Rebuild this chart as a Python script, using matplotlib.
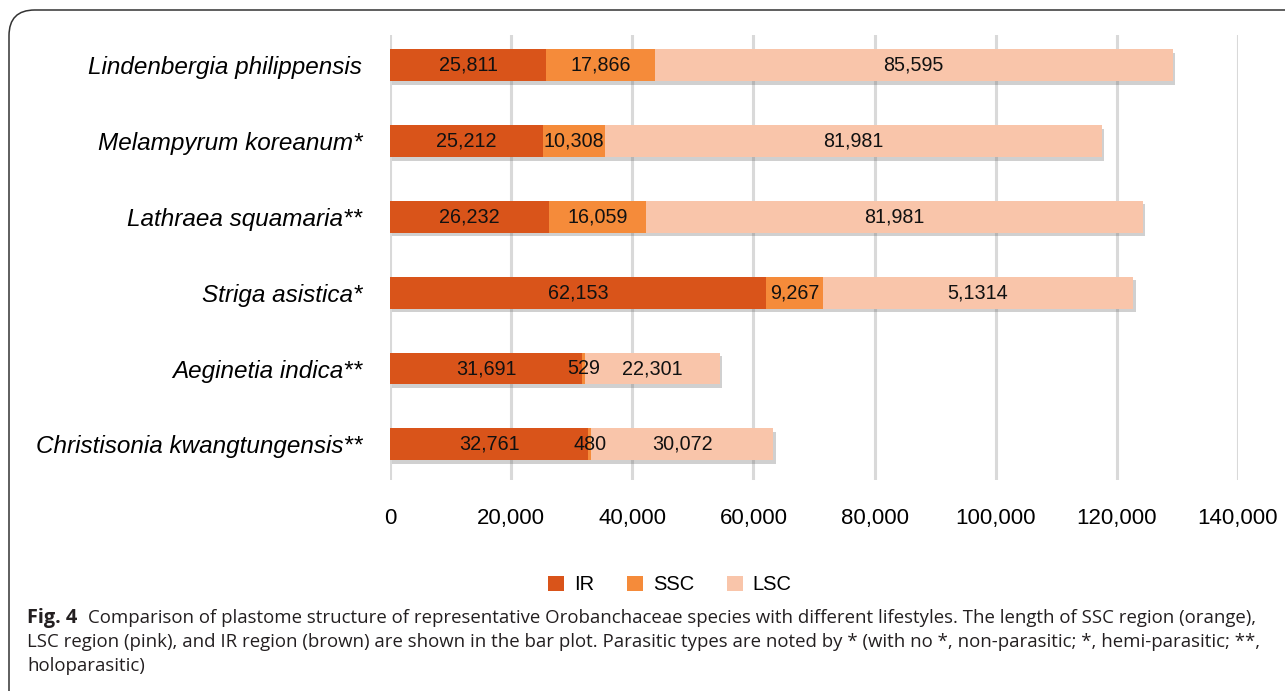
import matplotlib
matplotlib.use("Agg")
import matplotlib.pyplot as plt
import matplotlib.patheffects as pe
from matplotlib.patches import FancyBboxPatch, Patch

plt.rcParams["font.family"] = ["Liberation Sans", "DejaVu Sans"]

species = [
    "Lindenbergia philippensis",
    "Melampyrum koreanum*",
    "Lathraea squamaria**",
    "Striga asistica*",
    "Aeginetia indica**",
    "Christisonia kwangtungensis**",
]
ir = [25811, 25212, 26232, 62153, 31691, 32761]
ssc = [17866, 10308, 16059, 9267, 529, 480]
lsc = [85595, 81981, 81981, 51314, 22301, 30072]
lsc_text = ["85,595", "81,981", "81,981", "5,1314", "22,301", "30,072"]
xticks = [0, 20000, 40000, 60000, 80000, 100000, 120000, 140000]

colors = {"IR": "#D9541A", "SSC": "#F58B3A", "LSC": "#F9C5AA"}

caption_lines = [
    "Comparison of plastome structure of representative Orobanchaceae species with different lifestyles. The length of SSC region (orange),",
    "LSC region (pink), and IR region (brown) are shown in the bar plot. Parasitic types are noted by * (with no *, non-parasitic; *, hemi-parasitic; **,",
    "holoparasitic)",
]

W, H = 1285, 691
fig = plt.figure(figsize=(W / 100, H / 100), dpi=100)

ax = fig.add_axes([390 / W, 1 - 480 / H, 848 / W, 445 / H])
y = list(range(len(species)))
shadow = [pe.SimplePatchShadow(offset=(1.5, -2.5), shadow_rgbFace="#666666", alpha=0.3), pe.Normal()]

left2 = [a + b for a, b in zip(ir, ssc)]
segments = [
    ("IR", ir, [0] * len(ir), [f"{v:,}" for v in ir]),
    ("SSC", ssc, ir, [f"{v:,}" for v in ssc]),
    ("LSC", lsc, left2, lsc_text),
]
for name, vals, lefts, texts in segments:
    bars = ax.barh(y, vals, left=lefts, height=0.42, color=colors[name], label=name, zorder=3)
    for b in bars:
        b.set_path_effects(shadow)
    for yi, v, l, t in zip(y, vals, lefts, texts):
        ax.text(l + v / 2, yi, t, ha="center", va="center", fontsize=14.2, color="#111111", zorder=5)

ax.set_xlim(0, 140000)
ax.set_ylim(5.47, -0.4)
ax.set_xticks(xticks)
ax.set_xticklabels([f"{v:,}" for v in xticks], fontsize=16)
ax.set_yticks(y)
ax.set_yticklabels(species, fontsize=17.5, style="italic")
ax.tick_params(axis="both", length=0)
ax.tick_params(axis="x", pad=20)
ax.tick_params(axis="y", pad=20)
ax.grid(axis="x", color="#D9D9D9", linewidth=2.2, zorder=0)
for s in ax.spines.values():
    s.set_visible(False)

handles = [Patch(facecolor=colors[k], label=k) for k in ["IR", "SSC", "LSC"]]
fig.legend(handles=handles, loc="center", bbox_to_anchor=(670 / W, 1 - 585 / H), ncol=3,
           frameon=False, fontsize=14.5, handlelength=0.8, handleheight=0.8,
           handletextpad=0.5, columnspacing=1.6)

# rounded frame around the figure panel
frame = FancyBboxPatch((9 / W, -0.05), 1.1, 1 - 10 / H + 0.05,
                       boxstyle="round,pad=0,rounding_size=0.02",
                       transform=fig.transFigure, fill=False,
                       edgecolor="#333333", linewidth=1.1, mutation_aspect=W / H)
fig.add_artist(frame)

# caption, sized so the first line spans the panel width
cap_font = ["Open Sans", "DejaVu Sans"]
body_x = 88
fig.canvas.draw()
r = fig.canvas.get_renderer()
probe = fig.text(0, 0, caption_lines[0], fontsize=11, family=cap_font)
cap_size = 11 * (1262 - body_x) / probe.get_window_extent(r).width
probe.remove()

fig.text(27 / W, 1 - 618 / H, "Fig. 4", fontsize=cap_size * 1.06, family=cap_font,
         weight="bold", color="#231F20", va="center")
fig.text(body_x / W, 1 - 618 / H, caption_lines[0], fontsize=cap_size, family=cap_font,
         color="#231F20", va="center")
fig.text(27 / W, 1 - 642 / H, caption_lines[1], fontsize=cap_size, family=cap_font,
         color="#231F20", va="center")
fig.text(27 / W, 1 - 666 / H, caption_lines[2], fontsize=cap_size, family=cap_font,
         color="#231F20", va="center")

fig.savefig("out.png", dpi=100)
